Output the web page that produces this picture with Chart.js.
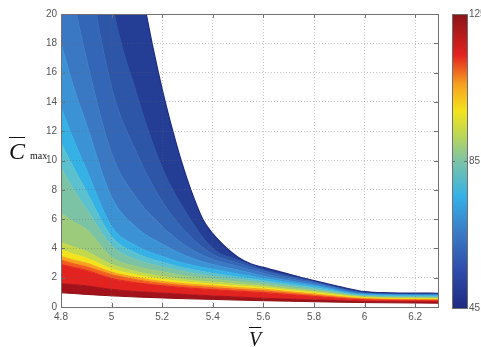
<!DOCTYPE html>
<html>
<head>
<meta charset="utf-8">
<script src="https://cdn.jsdelivr.net/npm/chart.js@4.4.1/dist/chart.umd.min.js"></script>
<style>
  html, body { margin: 0; padding: 0; background: #fff; }
  #wrap { position: relative; width: 481px; height: 347px; overflow: hidden; }
  #wrap canvas { position: absolute; left: 0; top: 0; }
  .lbl { position: absolute; font-family: 'Liberation Serif', 'Times New Roman', serif; color: #111; white-space: nowrap; }
  .ov { text-decoration: overline; text-decoration-thickness: 1px; font-style: italic; }
</style>
</head>
<body>
<div id="wrap">
  <canvas id="main" width="481" height="347"></canvas>
  <canvas id="cbar" width="481" height="347"></canvas>
  <div class="lbl" style="left:9px; top:139px; font-size:24px; line-height:24px;"><span class="ov">C</span><span style="font-size:10px; margin-left:5px;">max</span></div>
  <div class="lbl" style="left:249px; top:329px; font-size:20px; line-height:20px;"><span class="ov">V</span></div>
</div>
<script>
// V grid shared by all contour curves
const vGrid = [4.8, 4.85, 4.9, 5.0, 5.1, 5.2, 5.3, 5.4, 5.5, 5.6, 5.7, 5.8, 6.0, 6.29];

// lower edge of the feasible region
const lowerEdge = [0.97, 0.92, 0.86, 0.76, 0.68, 0.62, 0.56, 0.52, 0.47, 0.43, 0.40, 0.36, 0.30, 0.26];

// contour lines, from the hottest (bottom) to the coolest (top)
const c1  = [1.60, 1.52, 1.45, 1.20, 1.05, 0.95, 0.85, 0.76, 0.68, 0.60, 0.54, 0.49, 0.38, 0.34];
const c2  = [2.90, 2.70, 2.50, 1.95, 1.65, 1.45, 1.30, 1.18, 1.08, 0.98, 0.85, 0.72, 0.48, 0.42];
const c3  = [3.20, 2.95, 2.75, 2.20, 1.85, 1.60, 1.44, 1.32, 1.20, 1.10, 0.95, 0.80, 0.54, 0.46];
const c4  = [3.45, 3.20, 3.00, 2.38, 2.00, 1.74, 1.57, 1.45, 1.32, 1.22, 1.05, 0.89, 0.58, 0.50];
const c5  = [3.90, 3.60, 3.35, 2.60, 2.18, 1.90, 1.70, 1.56, 1.43, 1.32, 1.13, 0.97, 0.63, 0.54];
const c6  = [4.40, 4.10, 3.80, 2.90, 2.40, 2.08, 1.85, 1.70, 1.55, 1.42, 1.22, 1.05, 0.67, 0.58];
const c7  = [6.40, 5.80, 5.30, 3.40, 2.75, 2.40, 2.10, 1.90, 1.72, 1.55, 1.33, 1.13, 0.71, 0.62];
const c8  = [9.50, 8.00, 6.70, 4.20, 3.20, 2.75, 2.38, 2.10, 1.90, 1.68, 1.45, 1.23, 0.75, 0.67];
const c9  = [11.2, 9.50, 7.90, 4.80, 3.65, 3.05, 2.62, 2.30, 2.05, 1.80, 1.56, 1.33, 0.79, 0.72];
const c10 = [13.6, 11.4, 9.40, 5.50, 4.15, 3.45, 2.92, 2.58, 2.25, 1.95, 1.68, 1.43, 0.83, 0.77];
const c11 = [18.0, 15.0, 12.5, 7.50, 5.40, 4.30, 3.45, 2.90, 2.52, 2.12, 1.80, 1.52, 0.88, 0.81];
const c12 = [26.0, 21.0, 17.0, 10.5, 7.40, 5.50, 4.10, 3.25, 2.78, 2.30, 1.92, 1.62, 0.93, 0.85];
const c13 = [40.0, 30.0, 24.0, 15.0, 10.5, 7.20, 5.00, 3.60, 3.00, 2.45, 2.04, 1.70, 0.97, 0.88];
const c14 = [60.0, 45.0, 34.0, 21.0, 14.5, 9.50, 6.30, 4.00, 3.20, 2.55, 2.12, 1.74, 1.00, 0.91];

// upper edge of the region (everything above it is blank)
const upperV = [5.10, 5.137, 5.16, 5.185, 5.212, 5.242, 5.275, 5.313, 5.36, 5.40, 5.45, 5.50, 5.55, 5.60, 5.70, 5.80, 5.90, 6.00, 6.10, 6.20, 6.29];
const upperC = [23.0, 20.0, 18.0, 16.0, 14.0, 12.0, 10.0, 8.0, 6.0, 5.0, 4.1, 3.4, 2.95, 2.70, 2.25, 1.80, 1.40, 1.05, 0.97, 0.95, 0.94];

const xTicks = [4.8, 5, 5.2, 5.4, 5.6, 5.8, 6, 6.2];
const yTicks = [0, 2, 4, 6, 8, 10, 12, 14, 16, 18, 20];

// colorbar
const cbRange = [45, 125];
const cbTicks = [45, 85, 125];
const cbStops = [0, 0.12, 0.25, 0.38, 0.5, 0.6, 0.67, 0.76, 0.86, 1];

// palette (band fills, bottom to top) and colorbar colours
const bandColors = ['#a3121a', '#e2231f', '#f25c1e', '#f7a11f', '#f3e31d', '#c5d94c', '#9ccb7c',
  '#7cc3a6', '#5bc1cf', '#35b1e6', '#3b93d6', '#3a78c4', '#3366b6', '#2d55a8', '#243e96'];
const cbColors = ['#1f2a82', '#2d4aa8', '#3a78c4', '#35b1e6', '#7cc3a6', '#c5d94c', '#f3e31d', '#f7a11f', '#e2231f', '#8a1418'];

const tickFont = {family: "'Liberation Sans', Arial, sans-serif", size: 10};
const tickColor = '#555';
const gridColor = 'rgba(100,100,100,0.38)';

const contours = [c1, c2, c3, c4, c5, c6, c7, c8, c9, c10, c11, c12, c13, c14];
const pts = ys => vGrid.map((v, i) => ({x: v, y: ys[i]}));
const base = {pointRadius: 0, pointHoverRadius: 0, cubicInterpolationMode: 'monotone', borderWidth: 1};

const datasets = [
  {...base, data: upperV.map((v, i) => ({x: v, y: upperC[i]})), fill: 'end',
    backgroundColor: '#ffffff', borderColor: '#1f2b80', borderWidth: 1.2},
  {...base, data: pts(lowerEdge), fill: false, borderColor: '#8c0f15'},
  ...contours.map((c, i) => ({...base, data: pts(c), fill: '-1',
    backgroundColor: bandColors[i], borderColor: bandColors[i]})),
  {...base, data: pts(c14), fill: 'end', backgroundColor: bandColors[14], borderColor: bandColors[14]}
];

// box round the plot, with short inward ticks like the original
const frame = {
  id: 'frame',
  afterDraw(chart) {
    const {ctx, chartArea: a, scales: {x, y}} = chart;
    ctx.save();
    ctx.strokeStyle = '#707070';
    ctx.lineWidth = 1;
    ctx.beginPath();
    xTicks.forEach(v => {
      const px = Math.round(x.getPixelForValue(v)) + 0.5;
      ctx.moveTo(px, a.bottom); ctx.lineTo(px, a.bottom - 4);
      ctx.moveTo(px, a.top); ctx.lineTo(px, a.top + 4);
    });
    yTicks.forEach(v => {
      const py = Math.round(y.getPixelForValue(v)) + 0.5;
      ctx.moveTo(a.left, py); ctx.lineTo(a.left + 4, py);
      ctx.moveTo(a.right, py); ctx.lineTo(a.right - 4, py);
    });
    ctx.stroke();
    ctx.strokeRect(Math.round(a.left) + 0.5, Math.round(a.top) + 0.5,
      Math.round(a.right - a.left), Math.round(a.bottom - a.top));
    ctx.restore();
  }
};

new Chart(document.getElementById('main'), {
  type: 'line',
  data: {datasets},
  options: {
    responsive: false,
    animation: false,
    devicePixelRatio: 1,
    layout: {padding: {left: 0, top: 14, right: 43, bottom: 0}},
    plugins: {legend: {display: false}, tooltip: {enabled: false}},
    scales: {
      x: {
        type: 'linear', min: 4.8, max: 6.29,
        afterBuildTicks: s => { s.ticks = xTicks.map(v => ({value: v})); },
        afterFit: s => { s.height = 40; },
        grid: {color: gridColor, z: 1, drawTicks: false},
        border: {display: false, dash: [1, 2]},
        ticks: {font: tickFont, color: tickColor, padding: 4, maxRotation: 0,
          callback: v => String(Math.round(v * 10) / 10)}
      },
      y: {
        min: 0, max: 20,
        afterBuildTicks: s => { s.ticks = yTicks.map(v => ({value: v})); },
        afterFit: s => { s.width = 61; },
        grid: {color: gridColor, z: 1, drawTicks: false},
        border: {display: false, dash: [1, 2]},
        ticks: {font: tickFont, color: tickColor, padding: 4, callback: v => String(v)}
      }
    }
  },
  plugins: [frame]
});

const cbFrame = {
  id: 'cbFrame',
  afterDraw(chart) {
    const {ctx, chartArea: a, scales: {y}} = chart;
    ctx.save();
    ctx.strokeStyle = '#707070';
    ctx.lineWidth = 1;
    ctx.beginPath();
    cbTicks.forEach(v => {
      const py = Math.round(y.getPixelForValue(v)) + 0.5;
      ctx.moveTo(a.left, py); ctx.lineTo(a.left + 3, py);
      ctx.moveTo(a.right, py); ctx.lineTo(a.right - 3, py);
    });
    ctx.stroke();
    ctx.strokeRect(Math.round(a.left) + 0.5, Math.round(a.top) + 0.5,
      Math.round(a.right - a.left), Math.round(a.bottom - a.top));
    ctx.restore();
  }
};

function cbGradient(chart) {
  const a = chart.chartArea;
  if (!a) return cbColors[0];
  const g = chart.ctx.createLinearGradient(0, a.bottom, 0, a.top);
  cbStops.forEach((s, i) => g.addColorStop(s, cbColors[i]));
  return g;
}

new Chart(document.getElementById('cbar'), {
  type: 'bar',
  data: {
    labels: ['cb'],
    datasets: [{data: [cbRange], backgroundColor: ctx => cbGradient(ctx.chart),
      barPercentage: 1, categoryPercentage: 1, borderWidth: 0}]
  },
  options: {
    responsive: false,
    animation: false,
    devicePixelRatio: 1,
    layout: {padding: {left: 452, top: 14, right: 0, bottom: 39}},
    plugins: {legend: {display: false}, tooltip: {enabled: false}},
    scales: {
      x: {display: false},
      y: {
        position: 'right', min: cbRange[0], max: cbRange[1],
        afterBuildTicks: s => { s.ticks = cbTicks.map(v => ({value: v})); },
        afterFit: s => { s.width = 14; },
        grid: {display: false, drawTicks: false},
        border: {display: false},
        ticks: {font: tickFont, color: tickColor, padding: 2}
      }
    }
  },
  plugins: [cbFrame]
});
</script>
</body>
</html>
